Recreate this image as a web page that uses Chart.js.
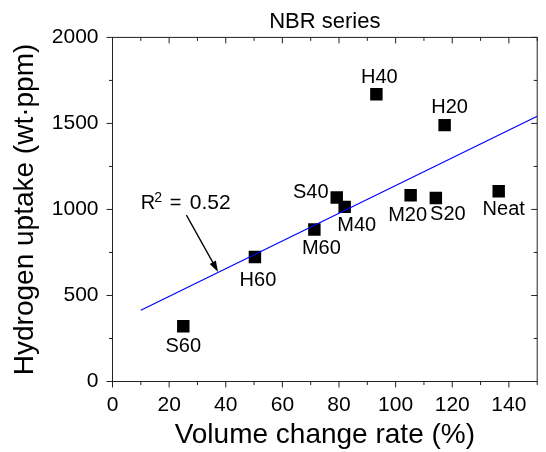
<!DOCTYPE html>
<html>
<head>
<meta charset="utf-8">
<script src="https://cdn.jsdelivr.net/npm/chart.js@4"></script>
<style>
  html, body { margin: 0; padding: 0; background: #fff; }
  #wrap { width: 546px; height: 452px; position: relative; }
</style>
</head>
<body>
<div id="wrap"><canvas id="nbrChart"></canvas></div>
<script>
const sampleNames = ['S60', 'H60', 'M60', 'S40', 'M40', 'H40', 'M20', 'S20', 'H20', 'Neat'];
const volumeChange = [25.0, 50.3, 71.3, 79.2, 82.0, 93.2, 105.3, 114.2, 117.3, 136.4];
const hydrogenUptake = [321, 724, 884, 1070, 1015, 1670, 1083, 1067, 1490, 1106];
const fitX = [10, 150];
const fitY = [414, 1542];
const rSquared = '0.52';
const xTicks = [0, 20, 40, 60, 80, 100, 120, 140];
const yTicks = [0, 500, 1000, 1500, 2000];

const FONT = '"Liberation Sans", Arial, sans-serif';

// where each sample label sits, relative to its marker (px)
const labelOffset = {
  S60: [0, 20], H60: [3, 24], M60: [7, 19], S40: [-26, -5], M40: [12, 19],
  H40: [3, -17], M20: [-3, 20], S20: [12, 17], H20: [5, -18], Neat: [5, 18]
};
// R^2 note and its arrow, in data units
const notePos = [10, 1000];
const arrowFrom = [26.1, 967];
const arrowTo = [37.3, 637];

const extras = {
  id: 'extras',
  afterDatasetsDraw(chart) {
    const {ctx, chartArea: a, scales: {x, y}} = chart;
    ctx.save();
    ctx.strokeStyle = '#222';
    ctx.lineWidth = 1;
    ctx.strokeRect(a.left, a.top, a.right - a.left, a.bottom - a.top);

    ctx.beginPath();
    for (let v = 0; v <= 150; v += 10) {
      const px = x.getPixelForValue(v);
      const len = v % 20 === 0 ? 6 : 3.5;
      ctx.moveTo(px, a.bottom); ctx.lineTo(px, a.bottom + len);
      ctx.moveTo(px, a.top); ctx.lineTo(px, a.top + len);
    }
    for (let v = 0; v <= 2000; v += 250) {
      const py = y.getPixelForValue(v);
      const len = v % 500 === 0 ? 6 : 3.5;
      ctx.moveTo(a.left, py); ctx.lineTo(a.left - len, py);
      ctx.moveTo(a.right, py); ctx.lineTo(a.right - len, py);
    }
    ctx.stroke();

    // sample labels
    ctx.fillStyle = '#000';
    ctx.font = '20px ' + FONT;
    ctx.textAlign = 'center';
    ctx.textBaseline = 'middle';
    sampleNames.forEach((name, i) => {
      const off = labelOffset[name];
      ctx.fillText(name, x.getPixelForValue(volumeChange[i]) + off[0],
                   y.getPixelForValue(hydrogenUptake[i]) + off[1]);
    });

    // R^2 note
    const nx = x.getPixelForValue(notePos[0]);
    const ny = y.getPixelForValue(notePos[1]);
    ctx.textAlign = 'left';
    ctx.textBaseline = 'alphabetic';
    ctx.font = '20px ' + FONT;
    ctx.fillText('R', nx, ny);
    ctx.fillText('=', nx + 29, ny);
    ctx.font = '21px ' + FONT;
    ctx.fillText(rSquared, nx + 49, ny);
    ctx.font = '14px ' + FONT;
    ctx.fillText('2', nx + 13.5, ny - 7);

    // arrow
    const x0 = x.getPixelForValue(arrowFrom[0]), y0 = y.getPixelForValue(arrowFrom[1]);
    const x1 = x.getPixelForValue(arrowTo[0]), y1 = y.getPixelForValue(arrowTo[1]);
    const ang = Math.atan2(y1 - y0, x1 - x0);
    ctx.strokeStyle = '#000';
    ctx.lineWidth = 1.3;
    ctx.beginPath();
    ctx.moveTo(x0, y0);
    ctx.lineTo(x1 - 8 * Math.cos(ang), y1 - 8 * Math.sin(ang));
    ctx.stroke();
    ctx.beginPath();
    ctx.moveTo(x1, y1);
    ctx.lineTo(x1 - 11 * Math.cos(ang) + 3.5 * Math.sin(ang), y1 - 11 * Math.sin(ang) - 3.5 * Math.cos(ang));
    ctx.lineTo(x1 - 11 * Math.cos(ang) - 3.5 * Math.sin(ang), y1 - 11 * Math.sin(ang) + 3.5 * Math.cos(ang));
    ctx.closePath();
    ctx.fillStyle = '#000';
    ctx.fill();
    ctx.restore();
  }
};

new Chart(document.getElementById('nbrChart'), {
  type: 'scatter',
  data: {
    datasets: [
      {
        type: 'line',
        data: fitX.map((v, i) => ({x: v, y: fitY[i]})),
        borderColor: '#0000ff',
        borderWidth: 1.2,
        pointRadius: 0,
        fill: false
      },
      {
        data: volumeChange.map((v, i) => ({x: v, y: hydrogenUptake[i]})),
        pointStyle: 'rect',
        pointRadius: 8.8,
        backgroundColor: '#000',
        borderWidth: 0
      }
    ]
  },
  options: {
    responsive: true,
    maintainAspectRatio: false,
    animation: false,
    events: [],
    layout: { padding: {left: 0, right: 3.5, top: 0, bottom: 0} },
    plugins: {
      legend: { display: false },
      tooltip: { enabled: false },
      title: {
        display: true,
        text: 'NBR series',
        fullSize: false,
        color: '#000',
        font: {family: FONT, size: 22, weight: 'normal'},
        padding: {top: 9, bottom: 2}
      }
    },
    scales: {
      x: {
        type: 'linear',
        min: 0,
        max: 150,
        afterBuildTicks: s => { s.ticks = xTicks.map(v => ({value: v})); },
        afterFit: s => { s.height = 70.5; },
        grid: { display: false, drawTicks: false },
        border: { display: false },
        ticks: { color: '#000', font: {family: FONT, size: 21}, padding: 11.5, maxRotation: 0, autoSkip: false,
                 callback: v => String(v) },
        title: {
          display: true,
          text: 'Volume change rate (%)',
          color: '#000',
          font: {family: FONT, size: 28},
          padding: {top: 0, bottom: 0}
        }
      },
      y: {
        min: 0,
        max: 2000,
        afterBuildTicks: s => { s.ticks = yTicks.map(v => ({value: v})); },
        afterFit: s => { s.width = 112.5; },
        grid: { display: false, drawTicks: false },
        border: { display: false },
        ticks: { color: '#000', font: {family: FONT, size: 21}, padding: 14,
                 callback: v => String(v) },
        title: {
          display: true,
          text: 'Hydrogen uptake (wt·ppm)',
          color: '#000',
          font: {family: FONT, size: 28},
          padding: {top: 8, bottom: 0}
        }
      }
    }
  },
  plugins: [extras]
});
</script>
</body>
</html>
